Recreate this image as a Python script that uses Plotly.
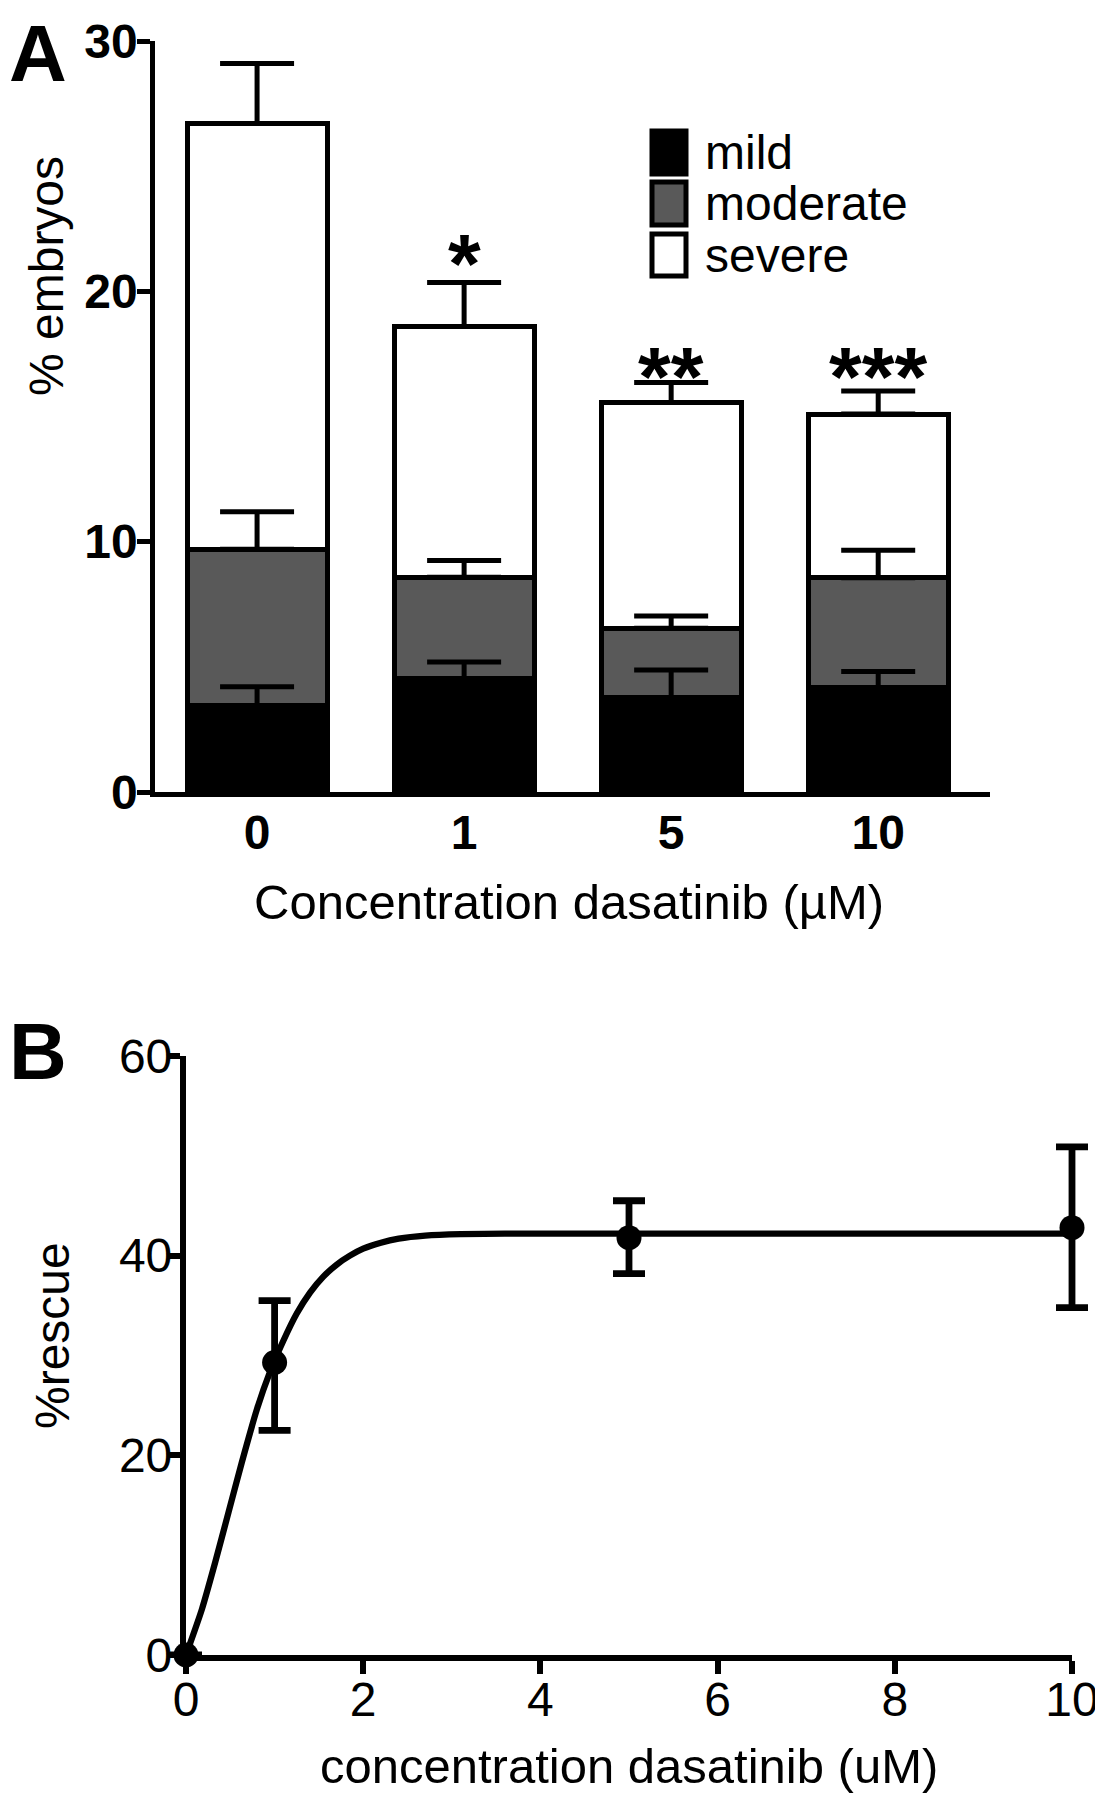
import numpy as np
import plotly.graph_objects as go

# ---------------- Panel A data ----------------
categories = ["0", "1", "5", "10"]
mild = [3.45, 4.53, 3.77, 4.16]
moderate = [6.25, 4.05, 2.77, 4.40]
severe = [17.0, 10.02, 9.02, 6.54]
mild_err = [0.75, 0.66, 1.10, 0.65]
moderate_err = [1.50, 0.67, 0.49, 1.10]
severe_err = [2.40, 1.75, 0.80, 0.92]
stars = ["", "*", "**", "***"]
star_y = [0, 21.1, 16.58, 16.58]
a_yticks = [0, 10, 20, 30]

# ---------------- Panel B data ----------------
conc = [0, 1, 5, 10]
rescue = [0, 29.3, 41.8, 42.8]
rescue_err_up = [0, 6.2, 3.7, 8.1]
rescue_err_down = [0, 6.8, 3.6, 8.0]
curve_x = [0, 0.18, 0.33, 0.48, 0.63, 0.80, 0.95, 1.10, 1.25, 1.40, 1.55, 1.70, 1.85, 2.00, 2.20, 2.40,
           2.70, 3.10, 3.60, 5, 7, 10]
curve_y = [0, 4.6, 9.3, 14.3, 19.3, 24.6, 28.4, 31.5, 34.2, 36.3, 37.9, 39.1, 40.0, 40.7, 41.3, 41.7,
           42.0, 42.15, 42.2, 42.2, 42.2, 42.2]
b_xticks = [0, 2, 4, 6, 8, 10]
b_yticks = [0, 20, 40, 60]

FONT = "Liberation Sans, Arial, sans-serif"
W, H = 1103, 1800
OFF = 8  # page body margin
LWA = 5
LWB = 6.2


def px(x):
    return (x - OFF) / W


def py(y):
    return 1 - (y - OFF) / H


fig = go.Figure()

bar_line = dict(color="black", width=LWA)
for name, vals, color in [("mild", mild, "black"), ("moderate", moderate, "#595959"), ("severe", severe, "white")]:
    fig.add_trace(go.Bar(x=categories, y=vals, name=name, marker=dict(color=color, line=bar_line),
                         width=0.676, xaxis="x", yaxis="y", showlegend=False))

# error bars drawn on top of all bars
tops = np.cumsum(np.array([mild, moderate, severe]), axis=0)
for top, err in zip(tops, [mild_err, moderate_err, severe_err]):
    fig.add_trace(go.Scatter(x=categories, y=top, mode="markers",
                             marker=dict(size=1, opacity=0),
                             error_y=dict(type="data", array=err, arrayminus=[0] * len(err), symmetric=False,
                                          color="black", thickness=LWA, width=37),
                             xaxis="x", yaxis="y", showlegend=False, hoverinfo="skip"))

# Panel B
fig.add_trace(go.Scatter(x=curve_x, y=curve_y, mode="lines",
                         line=dict(color="black", width=6.3, shape="spline", smoothing=0.6),
                         xaxis="x2", yaxis="y2", showlegend=False, cliponaxis=False))
fig.add_trace(go.Scatter(x=conc, y=rescue, mode="markers", marker=dict(color="black", size=25),
                         error_y=dict(type="data", array=rescue_err_up, arrayminus=rescue_err_down, symmetric=False,
                                      color="black", thickness=6.8, width=16),
                         xaxis="x3", yaxis="y2", showlegend=False, cliponaxis=False))

bold_tick = dict(family=FONT, size=48, color="black", weight="bold")
reg_tick = dict(family=FONT, size=48, color="black")

# panel B geometry (pixels of reference)
bx0, bx1 = 186, 1072
bpad = 30  # wider invisible axis for the error bars so caps are not clipped
bunit = (bx1 - bx0) / 10.0

fig.update_layout(
    width=W, height=H, margin=dict(l=0, r=0, t=0, b=0, autoexpand=False),
    paper_bgcolor="white", plot_bgcolor="rgba(0,0,0,0)", barmode="stack", showlegend=False,
    xaxis=dict(domain=[px(155), px(990)], anchor="y", type="category", range=[-0.493, 3.54], automargin=False,
               showline=True, linecolor="black", linewidth=4.5, ticks="", showgrid=False, zeroline=False,
               tickfont=bold_tick, ticklabelstandoff=-5),
    yaxis=dict(domain=[py(792), py(41)], anchor="x", range=[0, 30], tickvals=a_yticks, automargin=False,
               showline=True, linecolor="black", linewidth=4.5, ticks="outside", ticklen=13, tickwidth=4.5,
               tickcolor="black", showgrid=False, zeroline=False, tickfont=bold_tick, ticklabelstandoff=-10),
    xaxis2=dict(domain=[px(bx0), px(bx1)], anchor="y2", range=[0, 10], tickvals=b_xticks, automargin=False,
                showline=True, linecolor="black", linewidth=LWB, ticks="outside", ticklen=13, tickwidth=LWB,
                tickcolor="black", showgrid=False, zeroline=False, tickfont=reg_tick, ticklabelstandoff=-16),
    xaxis3=dict(domain=[px(bx0 - bpad), px(bx1 + bpad)], anchor="y2",
                range=[-bpad / bunit, 10 + bpad / bunit], visible=False, automargin=False,
                showgrid=False, zeroline=False),
    yaxis2=dict(domain=[py(1655), py(1056)], anchor="x2", range=[0, 60], tickvals=b_yticks, automargin=False,
                showline=True, linecolor="black", linewidth=LWB, ticks="outside", ticklen=13, tickwidth=LWB,
                tickcolor="black", showgrid=False, zeroline=False, tickfont=reg_tick, ticklabelstandoff=-15),
)

ann = []
# significance stars
for i, (s, yv) in enumerate(zip(stars, star_y)):
    if s:
        ann.append(dict(x=i, y=yv, xref="x", yref="y", text=s, showarrow=False, xanchor="center",
                        yanchor="middle", font=dict(family=FONT, size=84, color="black", weight="bold")))
# panel labels
ann.append(dict(x=0, y=1.0, xref="paper", yref="paper", text="A", showarrow=False, xanchor="left",
                yanchor="top", borderpad=0, font=dict(family=FONT, size=80, color="black", weight="bold")))
ann.append(dict(x=0, y=py(1006), xref="paper", yref="paper", text="B", showarrow=False, xanchor="left",
                yanchor="top", borderpad=0, font=dict(family=FONT, size=80, color="black", weight="bold")))
# axis titles
ann.append(dict(x=px(569), y=py(902), xref="paper", yref="paper", text="Concentration dasatinib (µM)",
                showarrow=False, xanchor="center", yanchor="middle", font=dict(family=FONT, size=49, color="black")))
ann.append(dict(x=px(47), y=py(276), xref="paper", yref="paper", text="% embryos", textangle=-90,
                showarrow=False, xanchor="center", yanchor="middle", font=dict(family=FONT, size=48, color="black")))
ann.append(dict(x=px(629), y=py(1766), xref="paper", yref="paper", text="concentration dasatinib (uM)",
                showarrow=False, xanchor="center", yanchor="middle", font=dict(family=FONT, size=49, color="black")))
ann.append(dict(x=px(52), y=py(1336), xref="paper", yref="paper", text="%rescue", textangle=-90,
                showarrow=False, xanchor="center", yanchor="middle", font=dict(family=FONT, size=48, color="black")))

# legend (manual)
legend_items = [("mild", "black", 129, 176), ("moderate", "#595959", 180, 227), ("severe", "white", 232, 278)]
shapes = []
for label, color, y0, y1 in legend_items:
    shapes.append(dict(type="rect", xref="paper", yref="paper", x0=px(652), x1=px(686), y0=py(y1 - 2), y1=py(y0 + 2),
                       fillcolor=color, line=dict(color="black", width=LWA)))
    ann.append(dict(x=px(703), y=py((y0 + y1) / 2), xref="paper", yref="paper", text=label, showarrow=False,
                    xanchor="left", yanchor="middle", font=dict(family=FONT, size=48, color="black")))

fig.update_layout(annotations=ann, shapes=shapes)
fig.write_html("out.html")
